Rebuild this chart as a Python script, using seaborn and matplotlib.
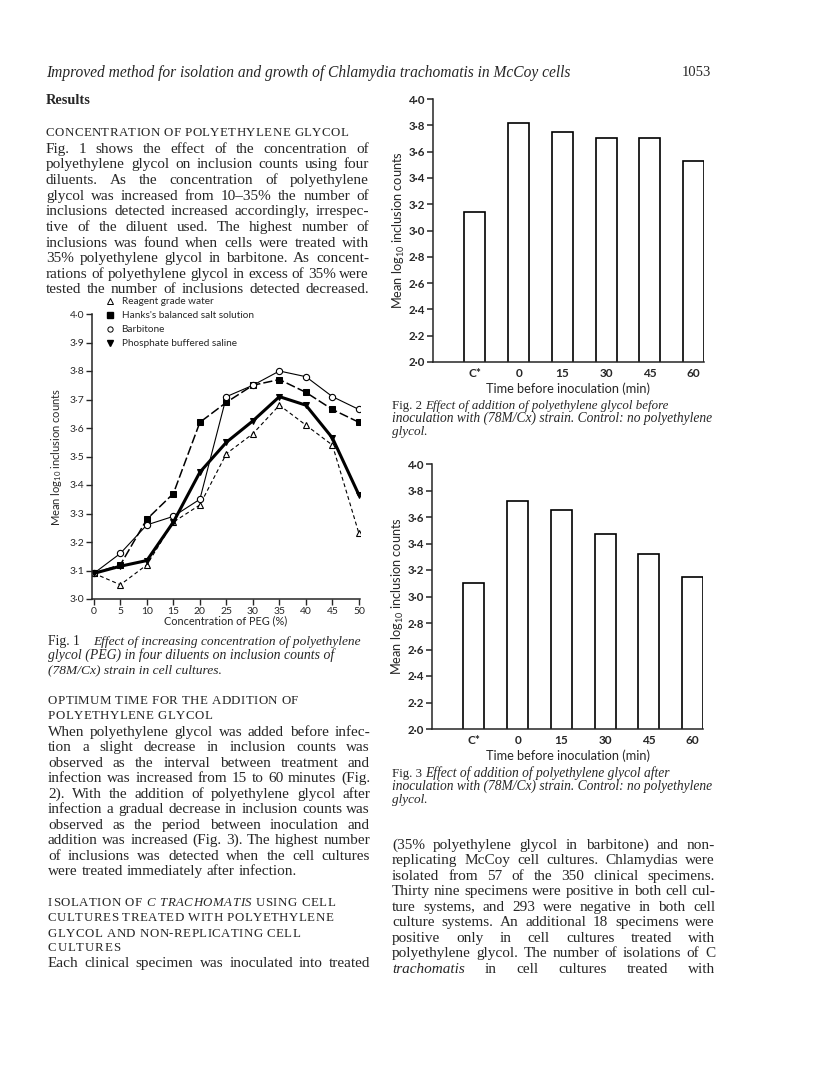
import numpy as np
import matplotlib
matplotlib.use("Agg")
import matplotlib.pyplot as plt
from matplotlib.lines import Line2D
import seaborn as sns

# Fig. 1: inclusion counts against PEG concentration, four diluents
peg = [0, 5, 10, 15, 20, 25, 30, 35, 40, 45, 50]
water = [3.09, 3.05, 3.12, 3.27, 3.33, 3.51, 3.58, 3.68, 3.61, 3.54, 3.23]
hanks = [3.09, 3.12, 3.28, 3.37, 3.62, 3.69, 3.75, 3.77, 3.725, 3.665, 3.62]
barbitone = [3.09, 3.16, 3.26, 3.29, 3.35, 3.71, 3.75, 3.80, 3.78, 3.71, 3.665]
pbs = [3.09, 3.115, 3.135, 3.27, 3.445, 3.55, 3.625, 3.71, 3.68, 3.565, 3.365]
diluents = ["Reagent grade water", "Hanks's balanced salt solution",
            "Barbitone", "Phosphate buffered saline"]

# Fig. 2 / Fig. 3: time of PEG addition
times = ["C*", "0", "15", "30", "45", "60"]
before = [3.14, 3.82, 3.75, 3.70, 3.70, 3.53]
after = [3.10, 3.72, 3.65, 3.475, 3.32, 3.15]

W, H = 816, 1084
SERIF = "Liberation Serif"
SANS = "Lato"

sns.set_style("ticks")
plt.rcParams["font.family"] = [SANS, "DejaVu Sans"]
plt.rcParams["mathtext.default"] = "regular"
plt.rcParams["axes.linewidth"] = 1.1

fig = plt.figure(figsize=(W / 100, H / 100), dpi=100)
fig.patch.set_facecolor("white")


def box(x0, y0, x1, y1):
    # pixel box (top-left origin) -> figure fraction rect
    return [x0 / W, 1 - y1 / H, (x1 - x0) / W, (y1 - y0) / H]


def dot_labels(vals):
    return [f"{v:.1f}".replace(".", "\u00b7") for v in vals]


# ---------- Fig. 1 ----------
ax1 = fig.add_axes(box(92, 314, 360, 599))
sns.lineplot(x=peg, y=water, ax=ax1, color="k", lw=0.8, linestyle=(0, (3.5, 2.5)),
             marker="^", markersize=5, markerfacecolor="white", markeredgecolor="k",
             markeredgewidth=0.8)
sns.lineplot(x=peg, y=hanks, ax=ax1, color="k", lw=1.1, linestyle=(0, (6, 2)),
             marker="s", markersize=4.5, markerfacecolor="k", markeredgecolor="k")
sns.lineplot(x=peg, y=barbitone, ax=ax1, color="k", lw=0.8,
             marker="o", markersize=4.5, markerfacecolor="white", markeredgecolor="k",
             markeredgewidth=0.8)
sns.lineplot(x=peg, y=pbs, ax=ax1, color="k", lw=2.2,
             marker="v", markersize=5, markerfacecolor="k", markeredgecolor="k")
ax1.set_xlim(-0.35, 50.2)
ax1.set_ylim(3.0, 4.0)
ax1.set_xticks(peg)
ax1.set_xticklabels([str(p) for p in peg])
yt = np.round(np.arange(3.0, 4.01, 0.1), 1)
ax1.set_yticks(yt)
ax1.set_yticklabels(dot_labels(yt))
ax1.tick_params(axis="both", direction="out", length=4, width=1, labelsize=7.5, pad=1.5)
ax1.set_xlabel("Concentration of PEG (%)", fontsize=7.8, labelpad=0)
ax1.set_ylabel(r"Mean log$_{10}$ inclusion counts", fontsize=8, labelpad=4)
sns.despine(ax=ax1)

handles = [
    Line2D([], [], ls="none", marker="^", ms=4, mfc="white", mec="k", mew=0.7),
    Line2D([], [], ls="none", marker="s", ms=3.8, mfc="k", mec="k"),
    Line2D([], [], ls="none", marker="o", ms=3.8, mfc="white", mec="k", mew=0.7),
    Line2D([], [], ls="none", marker="v", ms=4, mfc="k", mec="k"),
]
ax1.legend(handles, diluents, loc="upper left", bbox_to_anchor=(106 / W, 1 - 297 / H),
           bbox_transform=fig.transFigure, frameon=False, fontsize=7.2,
           handlelength=0.8, handletextpad=0.75, labelspacing=0.5, borderpad=0,
           borderaxespad=0)


# ---------- Fig. 2 and Fig. 3 ----------
def bar_panel(rect, vals):
    ax = fig.add_axes(rect)
    sns.barplot(x=times, y=vals, order=times, ax=ax, color="white", saturation=1,
                edgecolor="black", linewidth=1.2, width=0.48)
    ax.set_xlim(-0.96, 5.24)
    ax.set_ylim(2.0, 4.0)
    t = np.round(np.arange(2.0, 4.01, 0.2), 1)
    ax.set_yticks(t)
    ax.set_yticklabels(dot_labels(t), fontweight="bold")
    ax.tick_params(axis="y", direction="out", length=4, width=1.1, labelsize=8.3, pad=1.5)
    ax.tick_params(axis="x", length=0, labelsize=8.5, pad=4)
    for lab in ax.get_xticklabels():
        lab.set_fontweight("bold")
    ax.set_xlabel("Time before inoculation (min)", fontsize=9.2, labelpad=3)
    ax.set_ylabel(r"Mean log$_{10}$ inclusion counts", fontsize=9.2, labelpad=1)
    sns.despine(ax=ax)
    return ax


ax2 = bar_panel(box(433, 99, 704, 362), before)
ax3 = bar_panel(box(432, 464, 703, 729), after)

# ---------- page text ----------
renderer = fig.canvas.get_renderer()


def text_w(s, **kw):
    t = fig.text(0, 0, s, **kw)
    w = t.get_window_extent(renderer).width
    t.remove()
    return w


def put(s, x, y, size, ha="left", **kw):
    kw.setdefault("family", SERIF)
    fig.text(x / W, 1 - (y + size * 0.42) / H, s, size=size, ha=ha, va="baseline", **kw)


def fit(s, x0, x1, y, size, **kw):
    kw.setdefault("family", SERIF)
    w = text_w(s, size=size, **kw)
    size = size * (x1 - x0) / w
    put(s, x0, y, size, **kw)


def tracked(parts, x0, x1, y, size):
    # letter-spaced caps heading; parts = [(text, style), ...]
    chars = [(c, st) for s, st in parts for c in s]
    space = size * 0.25 * 100 / 72
    ws = [space if c == " " else text_w(c, size=size, family=SERIF, style=st)
          for c, st in chars]
    extra = (x1 - x0 - sum(ws)) / (len(chars) - 1)
    x = x0
    for (c, st), wd in zip(chars, ws):
        if c != " ":
            put(c, x, y, size, style=st)
        x += wd + extra


def justify(line, x0, x1, y, size, just=True):
    words = []
    for w in line.split(" "):
        style = "italic" if w.startswith("~") else "normal"
        words.append((w.lstrip("~"), style))
    while True:
        ws = [text_w(w, size=size, family=SERIF, style=st) for w, st in words]
        space = size * 0.25 * 100 / 72
        if not just or len(words) == 1:
            gap = space
            break
        gap = (x1 - x0 - sum(ws)) / (len(words) - 1)
        if gap >= space * 0.6:
            break
        size *= 0.985
    x = x0
    for (w, st), wd in zip(words, ws):
        put(w, x, y, size, style=st)
        x += wd + gap


def paragraph(lines, x0, x1, y0, dy, size, last_just=True):
    for i, ln in enumerate(lines):
        just = last_just or i < len(lines) - 1
        justify(ln, x0, x1, y0 + i * dy, size, just)


BODY = 11
CAPS = 9.3

fit("Improved method for isolation and growth of Chlamydia trachomatis in McCoy cells",
    46, 573, 72, 10, style="italic")
put("1053", 711, 72, 10.5, ha="right")
put("Results", 46, 100, 10.3, weight="bold")

tracked([("CONCENTRATION OF POLYETHYLENE GLYCOL", "normal")], 46, 348, 132, CAPS)
paragraph([
    "Fig. 1 shows the effect of the concentration of",
    "polyethylene glycol on inclusion counts using four",
    "diluents. As the concentration of polyethylene",
    "glycol was increased from 10\u201335% the number of",
    "inclusions detected increased accordingly, irrespec-",
    "tive of the diluent used. The highest number of",
    "inclusions was found when cells were treated with",
    "35% polyethylene glycol in barbitone. As concent-",
    "rations of polyethylene glycol in excess of 35% were",
    "tested the number of inclusions detected decreased.",
], 46, 369, 148, 15.65, BODY)

# Fig. 1 caption
put("Fig. 1", 48, 641, 9.8)
fit("Effect of increasing concentration of polyethylene", 93, 360, 641, 9.5, style="italic")
fit("glycol (PEG) in four diluents on inclusion counts of", 48, 333, 655, 9.5, style="italic")
fit("(78M/Cx) strain in cell cultures.", 48, 222, 669, 9.5, style="italic")

tracked([("OPTIMUM TIME FOR THE ADDITION OF", "normal")], 48, 298, 700, CAPS)
tracked([("POLYETHYLENE GLYCOL", "normal")], 48, 212, 715, CAPS)
paragraph([
    "When polyethylene glycol was added before infec-",
    "tion a slight decrease in inclusion counts was",
    "observed as the interval between treatment and",
    "infection was increased from 15 to 60 minutes (Fig.",
    "2). With the addition of polyethylene glycol after",
    "infection a gradual decrease in inclusion counts was",
    "observed as the period between inoculation and",
    "addition was increased (Fig. 3). The highest number",
    "of inclusions was detected when the cell cultures",
    "were treated immediately after infection.",
], 48, 370, 731, 15.5, BODY, last_just=False)

tracked([("ISOLATION OF ", "normal"), ("C TRACHOMATIS", "italic"),
         (" USING CELL", "normal")], 48, 335, 902, CAPS)
tracked([("CULTURES TREATED WITH POLYETHYLENE", "normal")], 48, 333, 917, CAPS)
tracked([("GLYCOL AND NON-REPLICATING CELL", "normal")], 48, 300, 933, CAPS)
tracked([("CULTURES", "normal")], 48, 120, 947, CAPS)
justify("Each clinical specimen was inoculated into treated", 48, 370, 962, BODY)

# Fig. 2 / Fig. 3 captions
for n, word, y0, x1 in [(2, "before", 405, 667), (3, "after", 773, 672)]:
    put(f"Fig. {n}", 392, y0, 9.3)
    fit(f"Effect of addition of polyethylene glycol {word}", 425, x1, y0, 9.3, style="italic")
    fit("inoculation with (78M/Cx) strain. Control: no polyethylene", 392, 715,
        y0 + 13, 9.3, style="italic")
    put("glycol.", 392, y0 + 26, 9.5, style="italic")

paragraph([
    "(35% polyethylene glycol in barbitone) and non-",
    "replicating McCoy cell cultures. Chlamydias were",
    "isolated from 57 of the 350 clinical specimens.",
    "Thirty nine specimens were positive in both cell cul-",
    "ture systems, and 293 were negative in both cell",
    "culture systems. An additional 18 specimens were",
    "positive only in cell cultures treated with",
    "polyethylene glycol. The number of isolations of C",
    "~trachomatis in cell cultures treated with",
], 392, 715, 844, 15.5, BODY)

fig.savefig("out.png", dpi=100, facecolor="white")
